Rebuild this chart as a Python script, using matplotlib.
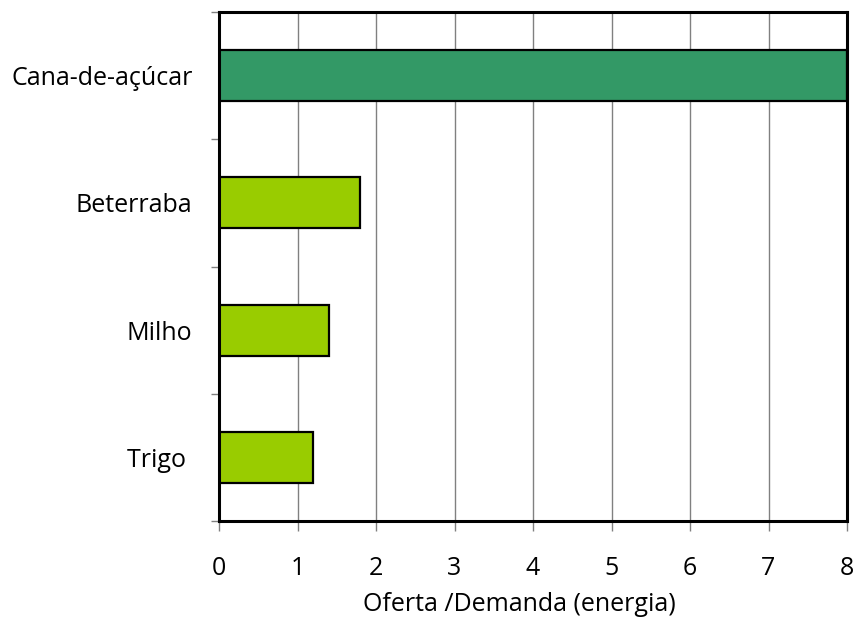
import matplotlib
matplotlib.use("Agg")
import matplotlib.pyplot as plt

categories = ["Trigo ", "Milho", "Beterraba", "Cana-de-açúcar"]
values = [1.2, 1.4, 1.8, 8.0]
colors = ["#99CC00", "#99CC00", "#99CC00", "#339966"]
x_ticks = [0, 1, 2, 3, 4, 5, 6, 7, 8]
x_label = "Oferta /Demanda (energia)"

plt.rcParams["font.family"] = ["Open Sans", "DejaVu Sans"]
FS = 18

fig = plt.figure(figsize=(8.58, 6.19), dpi=100)
ax = fig.add_axes([219 / 858, 1 - 521 / 619, (847 - 219) / 858, (521 - 12) / 619])

pos = list(range(len(categories)))
ax.barh(pos, values, height=0.4, color=colors, edgecolor="black",
        linewidth=1.6, zorder=3)

ax.set_xlim(0, 8)
ax.set_ylim(-0.5, len(categories) - 0.5)
ax.set_xticks(x_ticks)
ax.set_xticklabels([str(t) for t in x_ticks])
ax.xaxis.grid(True, color="#808080", linewidth=1.0, zorder=0)
ax.set_axisbelow(True)

# category boundaries get small tick marks, labels sit at the centres
ax.set_yticks([p - 0.5 for p in pos] + [pos[-1] + 0.5])
ax.set_yticklabels([])
ax.set_yticks(pos, minor=True)
ax.set_yticklabels(categories, minor=True, fontsize=FS)
ax.tick_params(axis="y", which="minor", length=0, pad=19)
ax.tick_params(axis="y", which="major", length=6, color="#808080", width=1)
ax.tick_params(axis="x", length=7, color="#808080", width=1, labelsize=FS, pad=18)

for s in ax.spines.values():
    s.set_linewidth(2.2)
    s.set_color("black")
    s.set_zorder(4)

ax.set_xlabel(x_label, fontsize=FS, labelpad=8, x=0.478)

fig.savefig("out.png", dpi=100)
